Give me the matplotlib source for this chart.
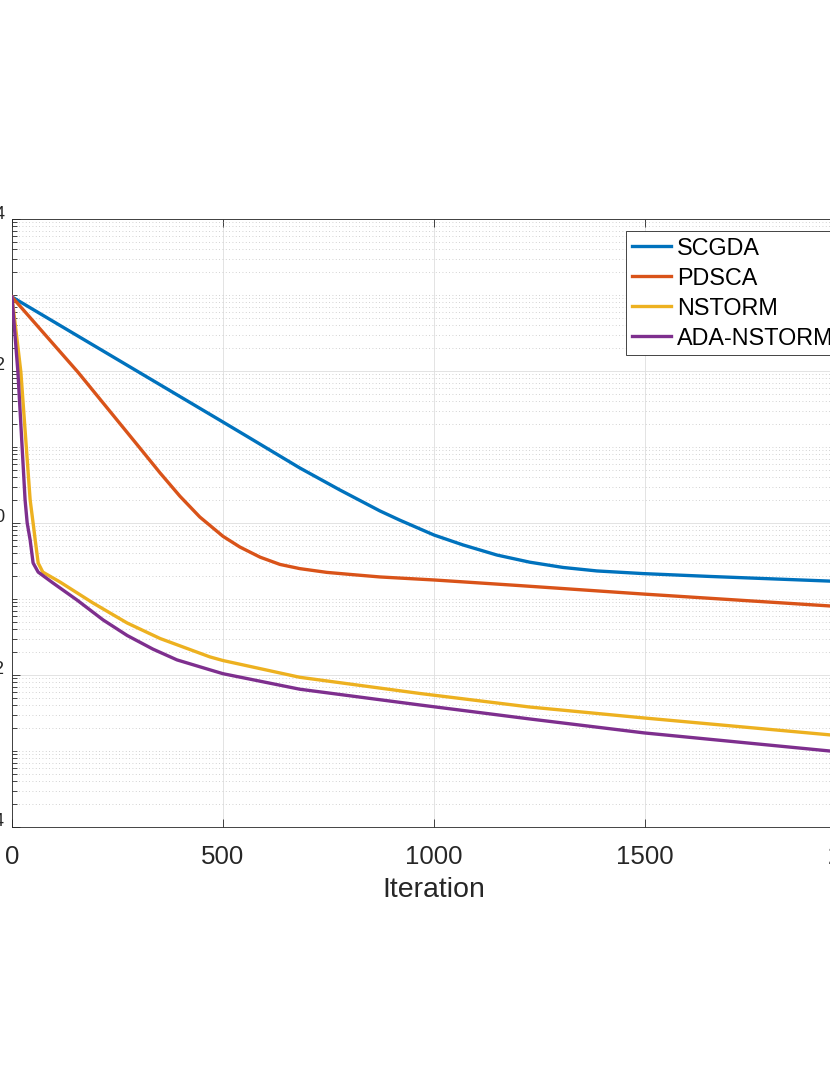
import matplotlib
matplotlib.use("Agg")
import matplotlib.pyplot as plt
from matplotlib.ticker import FixedLocator, FixedFormatter, NullFormatter

plt.rcParams["font.family"] = ["Liberation Sans", "DejaVu Sans"]
plt.rcParams["mathtext.fontset"] = "custom"
plt.rcParams["mathtext.rm"] = "Liberation Sans"
plt.rcParams["mathtext.it"] = "Liberation Sans"
plt.rcParams["mathtext.bf"] = "Liberation Sans"

# values (iteration, objective value)
scgda_it = [0, 500, 557, 682, 777, 872, 919, 1000, 1069, 1149, 1227, 1306, 1386, 1495, 1654, 1938, 2000]
scgda_val = [942, 21.3, 13.8, 5.30, 2.72, 1.44, 1.09, 0.695, 0.514, 0.379, 0.305, 0.260,
             0.234, 0.216, 0.198, 0.172, 0.167]

pdsca_it = [0, 156, 303, 351, 398, 445, 500, 540, 588, 635, 682, 746, 808, 872, 1000, 1204, 1498, 1938, 2000]
pdsca_val = [942, 97, 9.7, 4.55, 2.25, 1.20, 0.668, 0.483, 0.355, 0.285, 0.251, 0.224, 0.209,
             0.195, 0.178, 0.150, 0.116, 0.081, 0.077]

nstorm_it = [0, 21, 43, 50, 55, 62, 73, 114, 192, 273, 351, 469, 500, 682, 967, 1227, 1498, 1938, 2000]
nstorm_val = [942, 97, 2.01, 1.0, 0.597, 0.298, 0.226, 0.167, 0.0886, 0.0483, 0.0302, 0.0173,
              0.0155, 0.00933, 0.00571, 0.00379, 0.00272, 0.00163, 0.00153]

ada_it = [0, 14, 31, 36, 43, 50, 62, 97, 154, 216, 273, 334, 391, 469, 500, 682, 967, 1227, 1498, 1938, 2000]
ada_val = [942, 97, 2.01, 1.0, 0.597, 0.298, 0.226, 0.1626, 0.0970, 0.0530, 0.0331, 0.0219,
           0.0158, 0.0117, 0.0104, 0.0065, 0.00403, 0.00264, 0.00173, 0.00100, 0.00094]

series = [
    ("SCGDA", scgda_it, scgda_val, "#0072BD"),
    ("PDSCA", pdsca_it, pdsca_val, "#D95319"),
    ("NSTORM", nstorm_it, nstorm_val, "#EDB120"),
    ("ADA-NSTORM", ada_it, ada_val, "#7E2F8E"),
]

x_ticks = [0, 500, 1000, 1500, 2000]
y_major_exp = [-4, -2, 0, 2, 4]

W, H = 830, 1075
fig = plt.figure(figsize=(W / 100, H / 100), dpi=100)
# the axes run past the right edge, as in the cropped reference
ax = fig.add_axes([12 / W, 248 / H, 844 / W, 608 / H])

for label, it, val, color in series:
    ax.plot(it, val, color=color, lw=2.4, label=label, zorder=3,
            solid_joinstyle="round")

ax.set_yscale("log")
ax.set_xlim(0, 2000)
ax.set_ylim(1e-4, 1e4)

ax.xaxis.set_major_locator(FixedLocator(x_ticks))
ax.xaxis.set_major_formatter(FixedFormatter([str(t) for t in x_ticks]))

ax.yaxis.set_major_locator(FixedLocator([10.0 ** e for e in y_major_exp]))
ax.yaxis.set_major_formatter(FixedFormatter([r"$10^{%d}$" % e for e in y_major_exp]))
minor = []
for k in range(-4, 4):
    for s in range(1, 10):
        if s == 1 and k in y_major_exp:
            continue
        minor.append(s * 10.0 ** k)
ax.yaxis.set_minor_locator(FixedLocator(minor))
ax.yaxis.set_minor_formatter(NullFormatter())
ax.xaxis.set_minor_locator(FixedLocator([]))

tc = "#262626"
ax.tick_params(which="both", direction="in", top=True, right=True, colors=tc,
               labelsize=18.6, width=0.6)
ax.tick_params(which="major", length=5.8, pad=13)
ax.tick_params(which="minor", length=3.4)
ax.tick_params(axis="y", which="major", pad=5)
for sp in ax.spines.values():
    sp.set_color(tc)
    sp.set_linewidth(0.6)

ax.set_axisbelow(True)
ax.grid(True, which="major", color="#dedede", lw=0.6, ls="-")
ax.yaxis.grid(True, which="minor", color="#c4c4c4", lw=0.6, ls=(0, (1, 3)))

ax.set_xlabel("Iteration", fontsize=20.5, color=tc, labelpad=6)

leg = ax.legend(loc="upper left", bbox_to_anchor=(625.7 / W, 1 - 230.7 / H),
                bbox_transform=fig.transFigure, borderaxespad=0, fontsize=16.8,
                handlelength=1.7, handletextpad=0.25, borderpad=0.25,
                labelspacing=0.3, fancybox=False, framealpha=1)
leg.get_frame().set_edgecolor(tc)
leg.get_frame().set_linewidth(0.6)

fig.savefig("out.png", dpi=100)
